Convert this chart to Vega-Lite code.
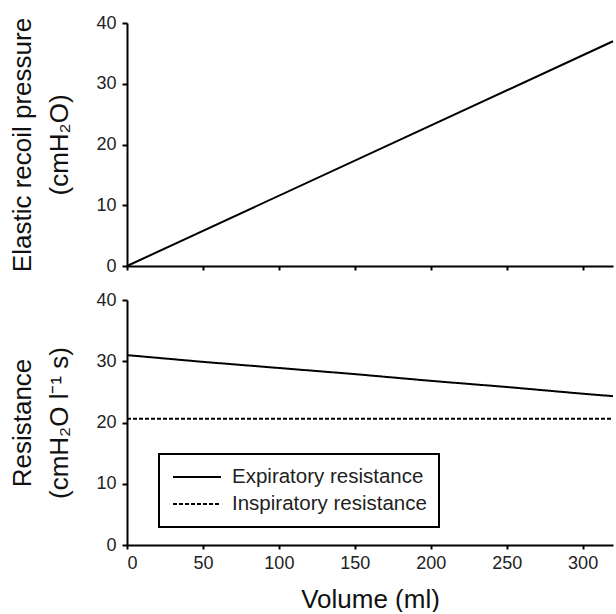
{
  "$schema": "https://vega.github.io/schema/vega-lite/v6.json",
  "background": "white",
  "padding": {"left": 9, "top": 14, "right": 0, "bottom": 0},
  "config": {
    "font": "Liberation Sans",
    "view": {"stroke": null},
    "range": {"strokeDash": [[1, 0], [2, 4]]},
    "axis": {
      "domainColor": "black", "domainWidth": 2, "tickColor": "black", "tickWidth": 2,
      "tickSize": 5, "labelColor": "#222", "labelFontSize": 18, "labelFont": "Liberation Sans",
      "titleFont": "Liberation Sans", "titleFontWeight": "normal", "titleFontSize": 26,
      "titleColor": "#111", "grid": false, "labelPadding": 6
    },
    "concat": {"spacing": 16}
  },
  "datasets": {
    "elastic": [
      {"volume": 0, "pressure": 0},
      {"volume": 320, "pressure": 37.0}
    ],
    "resistance": [
      {"volume": 0, "value": 31.0, "series": "Expiratory resistance"},
      {"volume": 50, "value": 29.9, "series": "Expiratory resistance"},
      {"volume": 100, "value": 28.9, "series": "Expiratory resistance"},
      {"volume": 150, "value": 27.9, "series": "Expiratory resistance"},
      {"volume": 200, "value": 26.8, "series": "Expiratory resistance"},
      {"volume": 250, "value": 25.8, "series": "Expiratory resistance"},
      {"volume": 300, "value": 24.7, "series": "Expiratory resistance"},
      {"volume": 320, "value": 24.3, "series": "Expiratory resistance"},
      {"volume": 0, "value": 20.6, "series": "Inspiratory resistance"},
      {"volume": 320, "value": 20.6, "series": "Inspiratory resistance"}
    ]
  },
  "vconcat": [
    {
      "width": 486, "height": 243,
      "data": {"name": "elastic"},
      "mark": {"type": "line", "color": "black", "strokeWidth": 2},
      "encoding": {
        "x": {"field": "volume", "type": "quantitative", "scale": {"domain": [0, 320], "nice": false},
              "axis": {"title": null, "labels": false, "tickSize": 4, "values": [0, 50, 100, 150, 200, 250, 300]}},
        "y": {"field": "pressure", "type": "quantitative", "scale": {"domain": [0, 40], "nice": false},
              "axis": {"title": ["Elastic recoil pressure", "(cmH₂O)"], "values": [0, 10, 20, 30, 40],
                       "titleLineHeight": 37, "titlePadding": 23}}
      }
    },
    {
      "width": 486, "height": 245,
      "data": {"name": "resistance"},
      "mark": {"type": "line", "color": "black", "strokeWidth": 2},
      "encoding": {
        "x": {"field": "volume", "type": "quantitative", "scale": {"domain": [0, 320], "nice": false},
              "axis": {"title": "Volume (ml)", "tickSize": 4, "labelPadding": 5, "values": [0, 50, 100, 150, 200, 250, 300], "titlePadding": 14}},
        "y": {"field": "value", "type": "quantitative", "scale": {"domain": [0, 40], "nice": false},
              "axis": {"title": ["Resistance", "(cmH₂O l⁻¹ s)"], "values": [0, 10, 20, 30, 40],
                       "titleLineHeight": 37, "titlePadding": 23}},
        "strokeDash": {
          "field": "series", "type": "nominal",
          "scale": {"domain": ["Expiratory resistance", "Inspiratory resistance"]},
          "legend": {
            "title": null, "orient": "none", "legendX": 32, "legendY": 431,
            "strokeColor": "black", "fillColor": "white", "cornerRadius": 0,
            "padding": 12, "symbolType": "M-2.4,0H2.4", "symbolSize": 400, "symbolStrokeWidth": 2,
            "symbolStrokeColor": "black", "symbolFillColor": "transparent", "symbolOffset": 15,
            "labelFontSize": 20.5, "labelFont": "Liberation Sans",
            "labelColor": "#222", "rowPadding": 5, "labelOffset": 24, "labelLimit": 400,
            "encode": {"legend": {"update": {"strokeWidth": {"value": 2}}}}
          }
        }
      }
    }
  ]
}
